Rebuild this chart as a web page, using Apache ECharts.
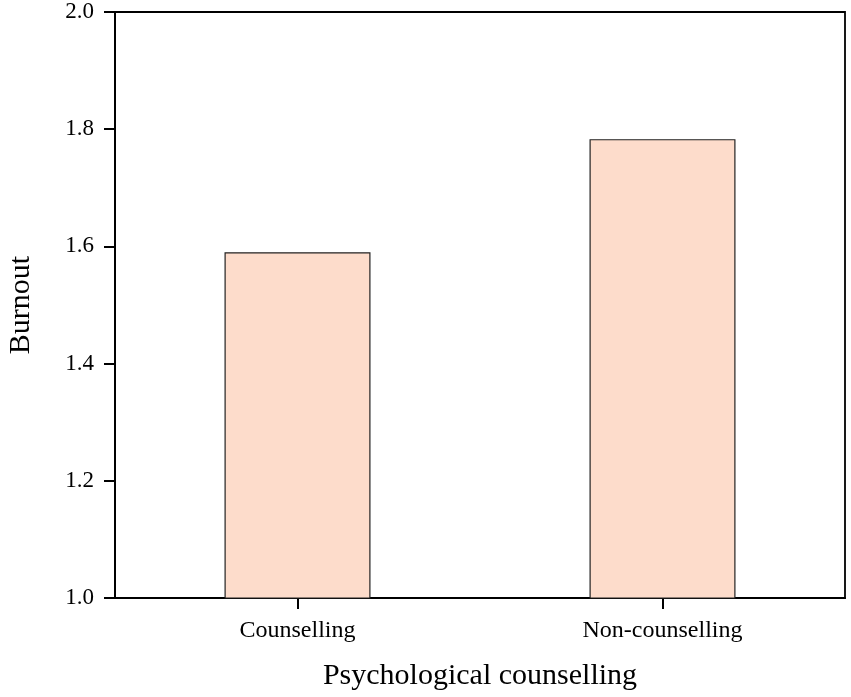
<!DOCTYPE html>
<html>
<head>
<meta charset="utf-8">
<script src="https://cdn.jsdelivr.net/npm/echarts@6/dist/echarts.min.js"></script>
<style>html,body{margin:0;padding:0;background:#fff;}#c{width:851px;height:697px;}</style>
</head>
<body>
<div id="c"></div>
<script>
const categories = ['Counselling', 'Non-counselling'];
const burnout = [1.59, 1.783];
const yTicks = [1.0, 1.2, 1.4, 1.6, 1.8, 2.0];

const chart = echarts.init(document.getElementById('c'));
const font = '"Liberation Serif", "Times New Roman", serif';
chart.setOption({
  animation: false,
  backgroundColor: '#fff',
  grid: { left: 115, right: 6, top: 12, bottom: 99, outerBoundsMode: 'none', containLabel: false, show: true, borderColor: '#000', borderWidth: 1.8, backgroundColor: 'transparent' },
  xAxis: {
    type: 'category',
    data: categories,
    name: 'Psychological counselling',
    nameLocation: 'middle',
    nameGap: 63,
    nameTextStyle: { fontFamily: font, fontSize: 30, color: '#000' },
    axisLine: { lineStyle: { color: '#000', width: 2 } },
    axisTick: { show: true, alignWithLabel: true, length: 11, lineStyle: { color: '#000', width: 2 } },
    axisLabel: { fontFamily: font, fontSize: 24, color: '#000', margin: 21 },
    splitLine: { show: false }
  },
  yAxis: {
    type: 'value',
    min: yTicks[0],
    max: yTicks[yTicks.length - 1],
    interval: 0.2,
    name: 'Burnout',
    nameLocation: 'middle',
    nameGap: 79,
    nameTextStyle: { fontFamily: font, fontSize: 30, color: '#000' },
    axisLine: { show: true, lineStyle: { color: '#000', width: 2 } },
    axisTick: { show: true, length: 11, lineStyle: { color: '#000', width: 2 } },
    axisLabel: { fontFamily: font, fontSize: 23, color: '#000', margin: 21, formatter: v => v.toFixed(1) },
    splitLine: { show: false }
  },
  series: [{
    type: 'bar',
    data: burnout,
    barWidth: '40%',
    itemStyle: { color: '#FDDCCB', borderColor: '#222', borderWidth: 1.2 }
  }]
});
</script>
</body>
</html>
